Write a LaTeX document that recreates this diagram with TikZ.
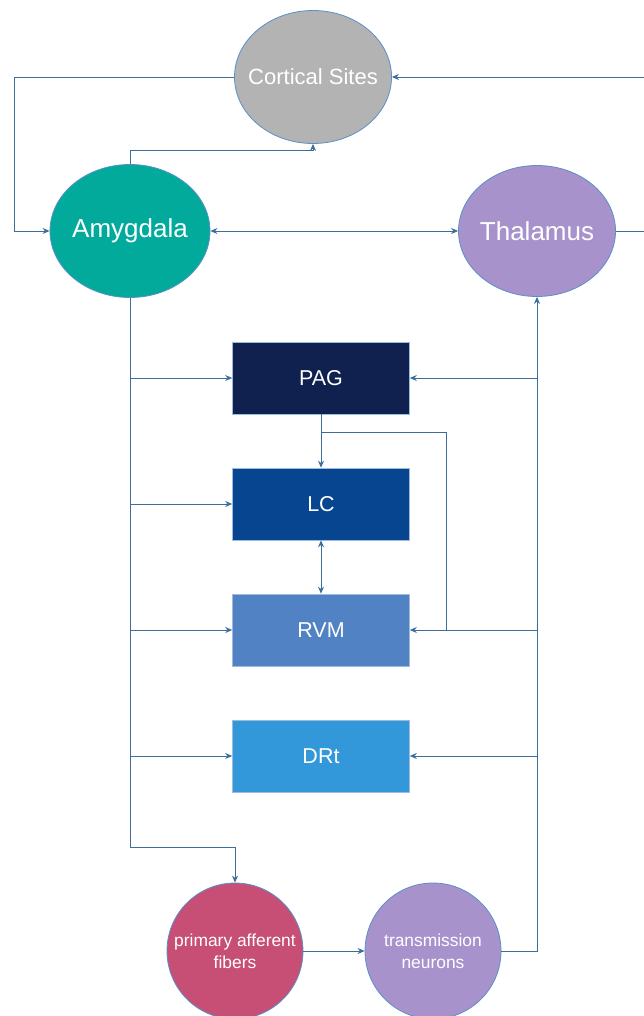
\documentclass[tikz,border=0pt]{standalone}
\usepackage{fontspec}
\setmainfont{Liberation Sans}
\usepackage{tikz}
\usetikzlibrary{arrows.meta,shapes.geometric}
\definecolor{wire}{HTML}{3C6E9C}
\definecolor{rim}{HTML}{5B8FC7}
\definecolor{cortex}{HTML}{B3B3B3}
\definecolor{amyg}{HTML}{02AA9C}
\definecolor{thal}{HTML}{A892CC}
\definecolor{pag}{HTML}{10214F}
\definecolor{lc}{HTML}{074590}
\definecolor{rvm}{HTML}{5182C4}
\definecolor{drt}{HTML}{3398DA}
\definecolor{paf}{HTML}{C74F75}

\begin{document}
\begin{tikzpicture}[x=1pt,y=-1pt,
    blob/.style={ellipse,draw=rim,line width=0.8pt,inner sep=0pt},
    txt/.style={text=white,align=center,inner sep=0pt},
    area/.style={rectangle,draw=rim!60,line width=0.6pt,minimum width=177pt,minimum height=72pt,
      text=white,font=\fontsize{21.5}{24}\selectfont},
    link/.style={draw=wire,line width=0.95pt},
    >={Stealth[length=7pt,width=6pt]}]
    \fill[white] (0,0) rectangle (644,1016);
    \useasboundingbox (0,0) rectangle (644,1016);

    \path
    (313,77) node[blob,fill=cortex,minimum width=157pt,minimum height=133pt,
      label={[txt,font=\fontsize{22}{24}\selectfont]center:Cortical Sites}] (CS) {}
    (130,231) node[blob,fill=amyg,minimum width=160pt,minimum height=133pt,
      label={[txt,font=\fontsize{26}{28}\selectfont]center:Amygdala}] (Amy) {}
    (537,231) node[blob,fill=thal,minimum width=157pt,minimum height=131pt,
      label={[txt,font=\fontsize{26}{28}\selectfont]center:Thalamus}] (Thal) {}
    ;

    \path
    (321,378) node[area,fill=pag] (PAG) {PAG}
    (321,504) node[area,fill=lc] (LC) {LC}
    (321,630) node[area,fill=rvm] (RVM) {RVM}
    (321,756) node[area,fill=drt] (DRt) {DRt}
    ;

    \path
    (235,951) node[blob,fill=paf,minimum width=136pt,minimum height=136pt,
      label={[txt,font=\fontsize{17.4}{22}\selectfont]center:primary afferent\\fibers}] (PAF) {}
    (433,951) node[blob,fill=thal,minimum width=136pt,minimum height=136pt,
      label={[txt,font=\fontsize{17.4}{22}\selectfont]center:transmission\\neurons}] (TN) {}
    ;

    \coordinate (Lx) at (14,0);
    \coordinate (Rx) at (660,0);
    \coordinate (Ay) at (0,150);
    \coordinate (Bot) at (0,847);
    \coordinate (Fb) at (446,432);

    % top loop
    \draw[link,->] (CS.west) -- (CS.west -| Lx) |- (Amy.west);
    \draw[link,->] (Amy.north) -- (Amy.north |- Ay) -| (CS.south);
    \draw[link,<->] (Amy.east) -- (Thal.west);
    \draw[link,->] (Thal.east) -- (Thal.east -| Rx) |- (CS.east);

    % descending bus
    \draw[link,->] (Amy.south) -- (Amy.south |- Bot) -| (PAF.north);
    \foreach \b in {PAG,LC,RVM,DRt}
      \draw[link,->] (Amy.south |- \b.west) -- (\b.west);

    % ascending bus
    \draw[link,->] (PAF.east) -- (TN.west);
    \draw[link,->] (TN.east) -| (Thal.south);
    \foreach \b in {PAG,RVM,DRt}
      \draw[link,->] (Thal.south |- \b.east) -- (\b.east);

    % brainstem links
    \draw[link,->] (PAG.south) -- (LC.north);
    \draw[link,<->] (LC.south) -- (RVM.north);
    \draw[link] (PAG.south |- Fb) -| (Fb |- RVM.east);
  \end{tikzpicture}
\end{document}
